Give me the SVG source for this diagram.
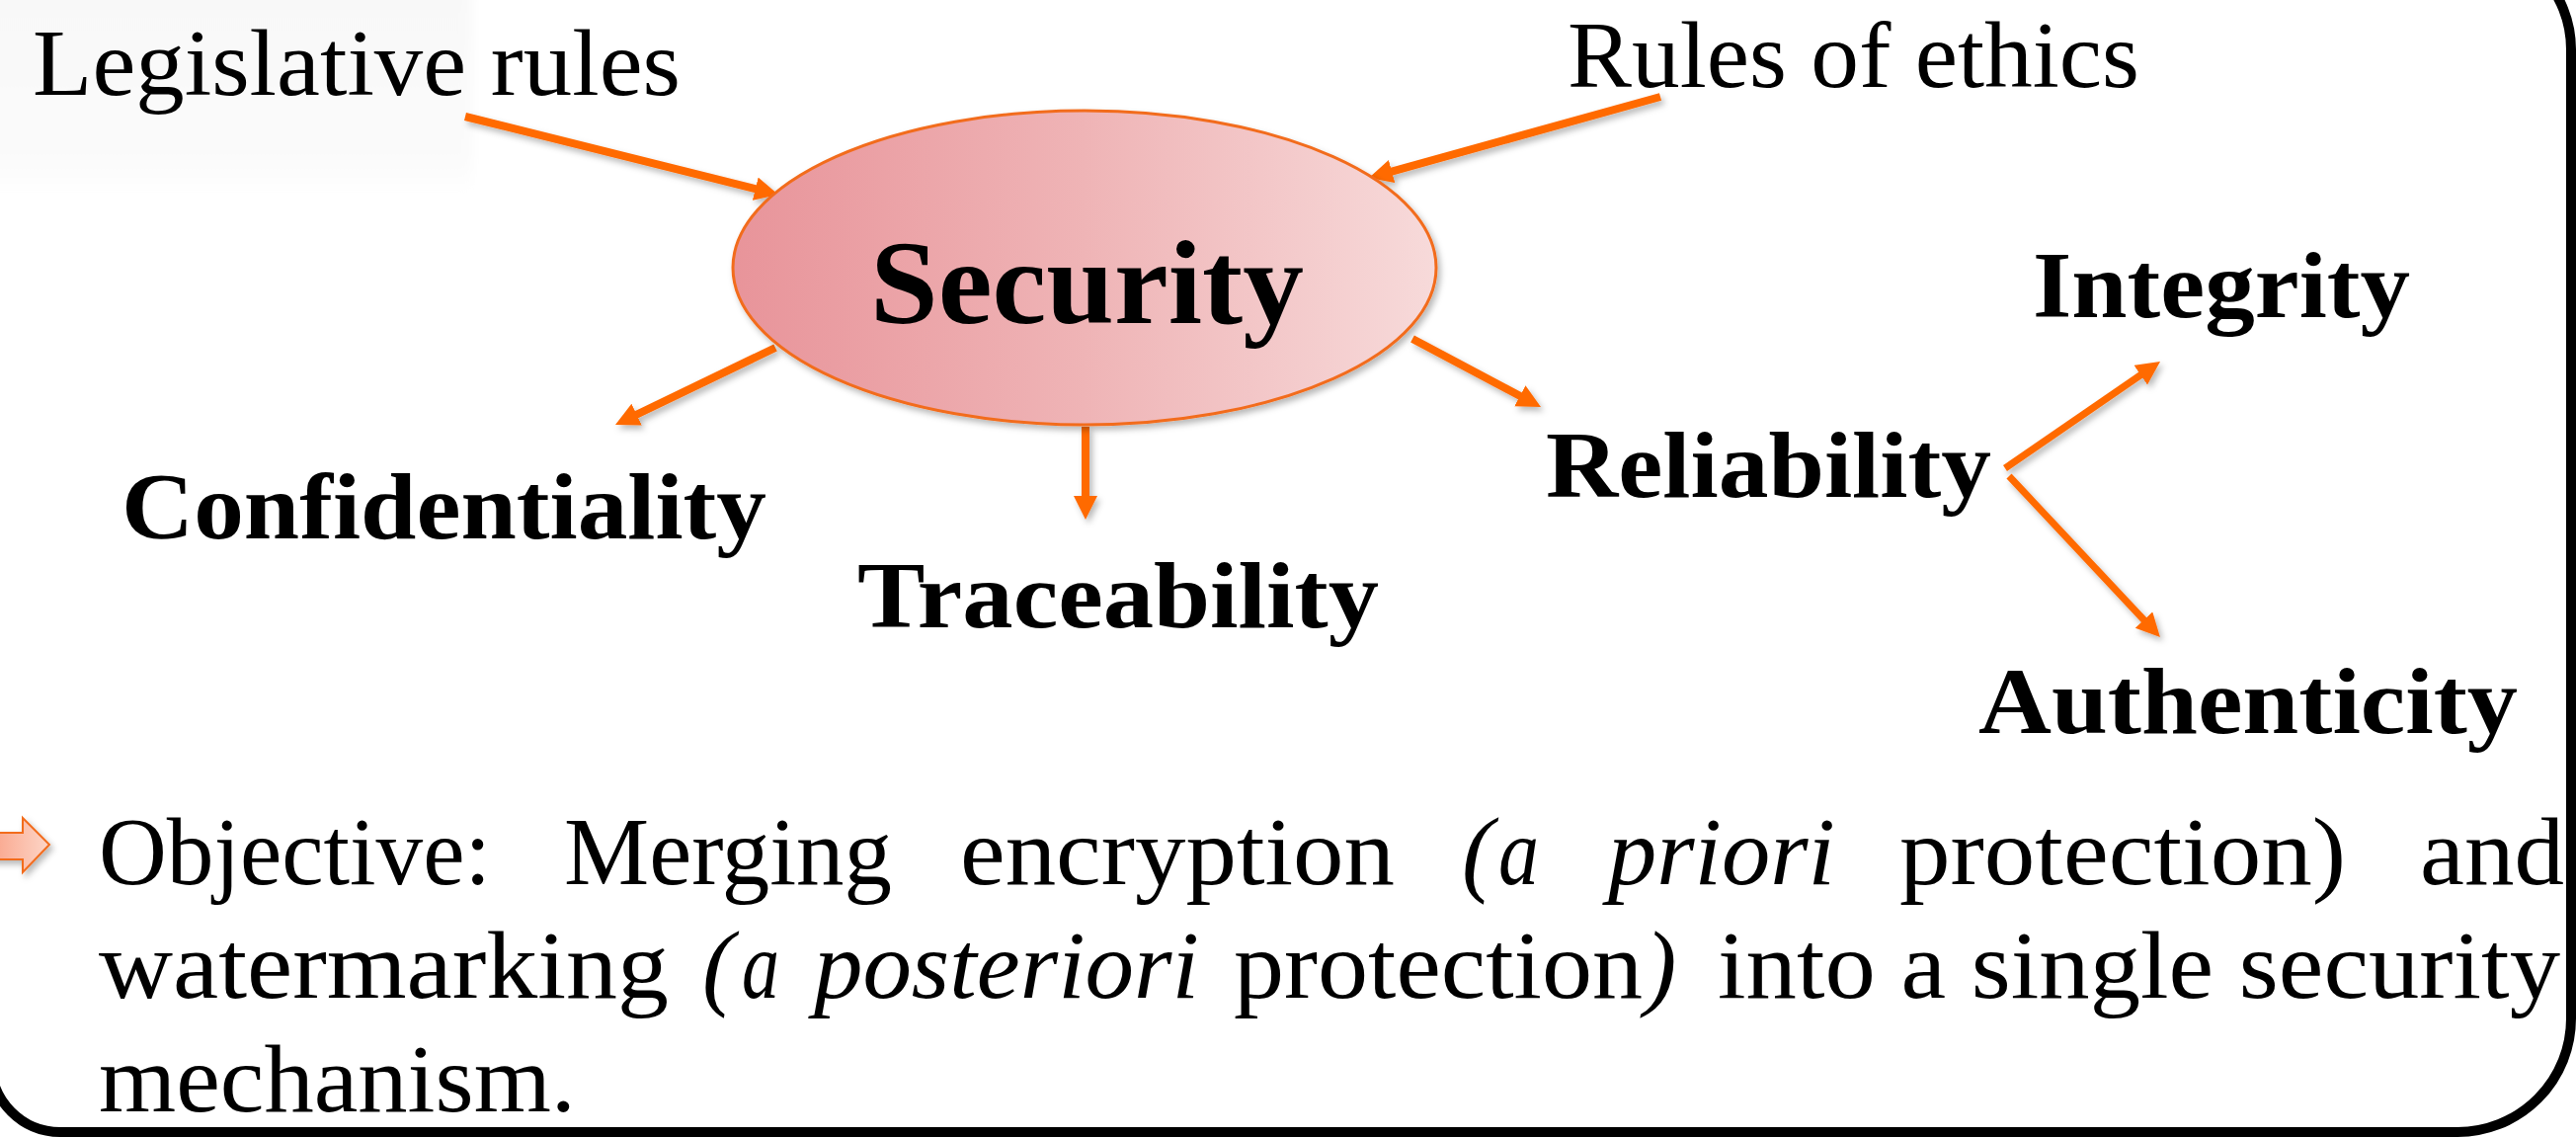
<svg xmlns="http://www.w3.org/2000/svg" width="2608" height="1152" viewBox="0 0 2608 1152">
  <defs>
    <style>
      .lbl { font-family: "Liberation Serif", "Times New Roman", serif; fill: #000; }
      .reg { font-size: 96px; }
      .bold { font-size: 95px; font-weight: bold; }
      .big { font-size: 121px; font-weight: bold; }
      .body { font-family: "Liberation Serif", "Times New Roman", serif; font-size: 97px; fill: #000; }
      .it { font-style: italic; }
      .conn { fill: none; stroke: #ff6a00; stroke-width: 8; stroke-linecap: butt; marker-end: url(#head); }
      .conn.thin { stroke-width: 7; }
    </style>
    <linearGradient id="secFill" x1="0" y1="0" x2="1" y2="0">
      <stop offset="0" stop-color="#e8949a"/>
      <stop offset="0.5" stop-color="#efb4b6"/>
      <stop offset="1" stop-color="#f7dada"/>
    </linearGradient>
    <linearGradient id="bulletFill" x1="0" y1="0" x2="1" y2="0">
      <stop offset="0" stop-color="#f9a48a"/>
      <stop offset="1" stop-color="#fdd6c8"/>
    </linearGradient>
    <linearGradient id="panelFade" x1="0" y1="0" x2="0" y2="1">
      <stop offset="0" stop-color="#f8f8f8"/>
      <stop offset="0.8" stop-color="#fafafa"/>
      <stop offset="1" stop-color="#ffffff"/>
    </linearGradient>
    <filter id="shadow" x="-20%" y="-20%" width="140%" height="150%">
      <feDropShadow dx="3" dy="4" stdDeviation="3" flood-color="#000" flood-opacity="0.28"/>
    </filter>
    <filter id="soft" x="-10%" y="-10%" width="120%" height="120%">
      <feGaussianBlur stdDeviation="6"/>
    </filter>
    <marker id="head" markerUnits="userSpaceOnUse" markerWidth="26" markerHeight="26" refX="2" refY="12" orient="auto">
      <path d="M0,0 L24,12 L0,24 Z" fill="#ff6a00"/>
    </marker>
  </defs>

  <!-- page -->
  <rect x="0" y="0" width="2608" height="1152" fill="#ffffff"/>
  <rect x="-20" y="-20" width="498" height="220" fill="url(#panelFade)" filter="url(#soft)"/>

  <!-- slide frame -->
  <path d="M -9,-60 H 2493 A 110 110 0 0 1 2603,50 V 1031 A 115 115 0 0 1 2488,1146 H 61 A 70 70 0 0 1 -9,1076 Z"
        fill="none" stroke="#000" stroke-width="10"/>

  <!-- connectors -->
  <g id="connectors" filter="url(#shadow)">
    <line class="conn" x1="471" y1="118" x2="766.7" y2="191.7"/>
    <line class="conn" x1="1681" y1="98" x2="1407.2" y2="174.1"/>
    <line class="conn" x1="785" y1="352" x2="642.8" y2="420.5"/>
    <line class="conn" x1="1099" y1="432" x2="1099" y2="504"/>
    <line class="conn" x1="1430" y1="343" x2="1540.6" y2="401.7"/>
    <line class="conn thin" x1="2030" y1="474" x2="2168.9" y2="378.5"/>
    <line class="conn thin" x1="2034" y1="482" x2="2171.9" y2="629"/>
  </g>

  <!-- central node -->
  <g id="node-security">
    <ellipse cx="1098" cy="271" rx="356" ry="159" fill="url(#secFill)" stroke="#f26c1e" stroke-width="3" filter="url(#shadow)"/>
    <text class="lbl big" x="881" y="327" textLength="439" lengthAdjust="spacingAndGlyphs">Security</text>
  </g>

  <g id="node-legislative">
    <text class="lbl reg" x="33" y="96" textLength="656" lengthAdjust="spacingAndGlyphs">Legislative rules</text>
  </g>

  <g id="node-ethics">
    <text class="lbl reg" x="1587" y="88" textLength="579" lengthAdjust="spacingAndGlyphs">Rules of ethics</text>
  </g>

  <g id="node-confidentiality">
    <text class="lbl bold" x="123" y="545" textLength="653" lengthAdjust="spacingAndGlyphs">Confidentiality</text>
  </g>

  <g id="node-traceability">
    <text class="lbl bold" x="868" y="635" textLength="528" lengthAdjust="spacingAndGlyphs">Traceability</text>
  </g>

  <g id="node-reliability">
    <text class="lbl bold" x="1565" y="503" textLength="451" lengthAdjust="spacingAndGlyphs">Reliability</text>
  </g>

  <g id="node-integrity">
    <text class="lbl bold" x="2058" y="321" textLength="382" lengthAdjust="spacingAndGlyphs">Integrity</text>
  </g>

  <g id="node-authenticity">
    <text class="lbl bold" x="2003" y="742" textLength="546" lengthAdjust="spacingAndGlyphs">Authenticity</text>
  </g>

  <!-- objective statement -->
  <g id="objective">
    <path d="M -10,843 H 23 V 828 L 50,855 L 23,883 V 870 H -10 Z" fill="url(#bulletFill)" stroke="#f26c1e" stroke-width="2" filter="url(#shadow)"/>

    <text class="body" x="100" y="895" textLength="397" lengthAdjust="spacingAndGlyphs">Objective:</text>
    <text class="body" x="571" y="895" textLength="332" lengthAdjust="spacingAndGlyphs">Merging</text>
    <text class="body" x="972" y="895" textLength="440" lengthAdjust="spacingAndGlyphs">encryption</text>
    <text class="body it" x="1480" y="895">(</text>
    <text class="body it" x="1517" y="895" textLength="41" lengthAdjust="spacingAndGlyphs">a</text>
    <text class="body it" x="1628" y="895" textLength="230" lengthAdjust="spacingAndGlyphs">priori</text>
    <text class="body" x="1923" y="895" textLength="452" lengthAdjust="spacingAndGlyphs">protection)</text>
    <text class="body" x="2450" y="895" textLength="146" lengthAdjust="spacingAndGlyphs">and</text>

    <text class="body" x="100" y="1010" textLength="577" lengthAdjust="spacingAndGlyphs">watermarking</text>
    <text class="body it" x="711" y="1010">(</text>
    <text class="body it" x="751" y="1010" textLength="38" lengthAdjust="spacingAndGlyphs">a</text>
    <text class="body it" x="824" y="1010" textLength="390" lengthAdjust="spacingAndGlyphs">posteriori</text>
    <text class="body" x="1249" y="1010" textLength="414" lengthAdjust="spacingAndGlyphs">protection</text>
    <text class="body it" x="1665" y="1010">)</text>
    <text class="body" x="1739" y="1010" textLength="853" lengthAdjust="spacingAndGlyphs">into a single security</text>

    <text class="body" x="100" y="1125" textLength="483" lengthAdjust="spacingAndGlyphs">mechanism.</text>
  </g>
</svg>
